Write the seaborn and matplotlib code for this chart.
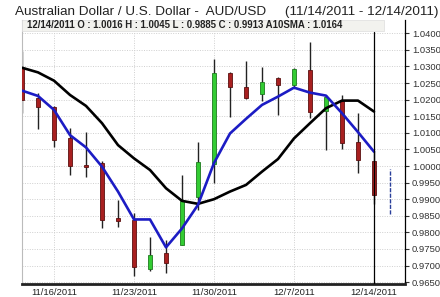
import numpy as np
import pandas as pd
import matplotlib
matplotlib.use("Agg")
import matplotlib.pyplot as plt
from matplotlib.patches import Rectangle
import seaborn as sns

dates = ["11/14/2011", "11/15/2011", "11/16/2011", "11/17/2011", "11/18/2011",
         "11/21/2011", "11/22/2011", "11/23/2011", "11/24/2011", "11/25/2011",
         "11/28/2011", "11/29/2011", "11/30/2011", "12/1/2011", "12/2/2011",
         "12/5/2011", "12/6/2011", "12/7/2011", "12/8/2011", "12/9/2011",
         "12/12/2011", "12/13/2011", "12/14/2011"]
opens = [1.0295, 1.0205, 1.0178, 1.0084, 1.0003, 1.0009, 0.9844, 0.9837, 0.9691, 0.9739,
         0.9762, 0.9908, 1.0006, 1.0279, 1.0239, 1.0216, 1.0266, 1.0244, 1.0289, 1.0166,
         1.0196, 1.0073, 1.0016]
highs = [1.0346, 1.0220, 1.0181, 1.0114, 1.0102, 1.0015, 0.9898, 0.9858, 0.9785, 0.9777,
         0.9973, 1.0073, 1.0322, 1.0282, 1.0316, 1.0299, 1.0269, 1.0296, 1.0374, 1.0214,
         1.0214, 1.0159, 1.0045]
lows = [1.0160, 1.0111, 1.0057, 0.9973, 0.9967, 0.9813, 0.9817, 0.9669, 0.9685, 0.9677,
        0.9762, 0.9867, 0.9948, 1.0148, 1.0202, 1.0196, 1.0154, 1.0239, 1.0145, 1.0048,
        1.0051, 0.9979, 0.9885]
closes = [1.0199, 1.0178, 1.0078, 1.0000, 0.9997, 0.9837, 0.9834, 0.9695, 0.9731, 0.9707,
          0.9895, 1.0013, 1.0279, 1.0237, 1.0206, 1.0254, 1.0244, 1.0292, 1.0162, 1.0209,
          1.0068, 1.0018, 0.9913]
sma10 = [1.0296, 1.0282, 1.0257, 1.0214, 1.0181, 1.0129, 1.0063, 1.0023, 0.9988, 0.9933,
         0.9895, 0.9886, 0.9900, 0.9923, 0.9943, 0.9983, 1.0021, 1.0083, 1.0129, 1.0174,
         1.0197, 1.0197, 1.0164]
sma_fast = [1.0227, 1.0211, 1.0169, 1.0093, 1.0056, 0.9998, 0.9923, 0.9839, 0.9839, 0.9755,
            0.9812, 0.9883, 1.0009, 1.0098, 1.0142, 1.0184, 1.0209, 1.0236, 1.0221, 1.0212,
            1.0159, 1.0102, 1.0043]
next_range = [0.9855, 0.9990]
x_tick_labels = ["11/16/2011", "11/23/2011", "11/30/2011", "12/7/2011", "12/14/2011"]
y_ticks = [0.9650, 0.9700, 0.9750, 0.9800, 0.9850, 0.9900, 0.9950, 1.0000, 1.0050,
           1.0100, 1.0150, 1.0200, 1.0250, 1.0300, 1.0350, 1.0400]

df = pd.DataFrame({"date": dates, "open": opens, "high": highs, "low": lows,
                   "close": closes, "sma10": sma10, "fast": sma_fast})
df["i"] = np.arange(len(df))

sns.set_style("white")
plt.rcParams["font.family"] = ["Liberation Sans", "DejaVu Sans"]

fig = plt.figure(figsize=(4.4, 2.97), dpi=100)
ax = fig.add_axes([22/440, 13/297, (405-22)/440, (284-20)/297])

# grid
for yv in y_ticks:
    ax.axhline(yv, color="#cfcfcf", lw=0.7, ls=(0, (1, 1.5)), zorder=0)
tick_idx = [dates.index(d) for d in x_tick_labels]
for xv in tick_idx:
    ax.axvline(xv, color="#cfcfcf", lw=0.7, ls=(0, (1, 1.5)), zorder=0)

# candles
ax.vlines(df["i"], df["low"], df["high"], color="#222222", lw=1.0, zorder=2)
up = df["close"] >= df["open"]
body_bottom = np.minimum(df["open"], df["close"])
body_h = np.abs(df["close"] - df["open"]).clip(lower=0.00025)
ax.bar(df["i"][up], body_h[up], bottom=body_bottom[up], width=0.26,
       color="#33cc33", edgecolor="#1e7a1e", linewidth=0.6, zorder=3)
ax.bar(df["i"][~up], body_h[~up], bottom=body_bottom[~up], width=0.26,
       color="#a82020", edgecolor="#5a1010", linewidth=0.6, zorder=3)

# moving averages
sns.lineplot(data=df, x="i", y="sma10", ax=ax, color="black", lw=1.9, zorder=4)
sns.lineplot(data=df, x="i", y="fast", ax=ax, color="#1c1cc4", lw=1.9, zorder=5)

# cursor line and next range
last = len(df) - 1
ax.axvline(last, color="black", lw=0.9, ymax=0.955, zorder=6)
ax.vlines([last + 1], next_range[0], next_range[1], color="#2a3f9a", lw=1.0,
          linestyles=(0, (3, 1)), zorder=6)

ax.set_xlim(0, (405-22)/16)
ax.set_ylim(1 + (166-284)/3320, 1 + (166-20)/3320)
ax.set_xticks(tick_idx)
ax.set_xticklabels(x_tick_labels, fontsize=6.8, color="#222222")
ax.set_yticks(y_ticks)
ax.set_yticklabels([f"{v:.4f}" for v in y_ticks], fontsize=6.8, color="#333333")
ax.yaxis.tick_right()
ax.tick_params(axis="y", length=3, width=0.8, pad=2, right=True, left=False, color="#333333")
ax.tick_params(axis="x", length=0, pad=3)
ax.set_xlabel("")
ax.set_ylabel("")
ax.spines["top"].set_visible(False)
ax.spines["left"].set_color("#bbbbbb")
ax.spines["left"].set_linewidth(0.8)
ax.spines["right"].set_color("black")
ax.spines["right"].set_linewidth(0.9)
ax.spines["bottom"].set_color("#222222")
ax.spines["bottom"].set_linewidth(2.0)

# header info box
fig.patches.append(Rectangle((22/440, (297-31)/297), (384-22)/440, 11/297,
                             transform=fig.transFigure, facecolor="#f2f2ee",
                             edgecolor="#dddddd", lw=0.5, zorder=10))
r = df.iloc[-1]
info = (f"{r['date']} O : {r['open']:.4f} H : {r['high']:.4f} L : {r['low']:.4f} "
        f"C : {r['close']:.4f} A10SMA : {r['sma10']:.4f}")
fig.text(27/440, (297-25.5)/297, info, fontsize=6.9, fontweight="bold",
         color="#222222", va="center", ha="left", zorder=11)

fig.text(15/440, (297-12)/297,
         "Australian Dollar / U.S. Dollar -  AUD/USD     (11/14/2011 - 12/14/2011)",
         fontsize=9.7, color="#222222", va="center", ha="left")

fig.savefig("out.png", dpi=100, facecolor="white")
